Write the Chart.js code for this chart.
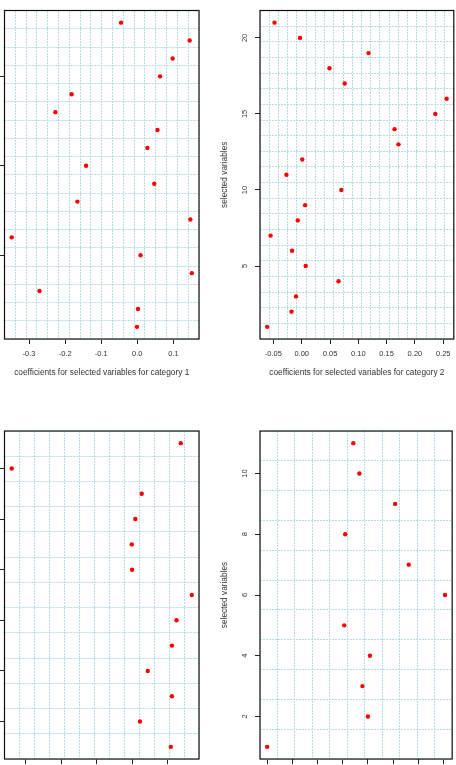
<!DOCTYPE html>
<html><head><meta charset="utf-8">
<script src="https://cdn.jsdelivr.net/npm/chart.js@4.4.1/dist/chart.umd.min.js"></script>
<style>
html,body{margin:0;padding:0;background:#fff;overflow:hidden;width:456px;height:765px;position:relative}
canvas{position:absolute}
</style></head><body>
<canvas id="c1" width="278" height="390" style="left:-50px;top:0px;width:278px;height:390px"></canvas>
<canvas id="c2" width="238" height="390" style="left:218px;top:0px;width:238px;height:390px"></canvas>
<canvas id="c3" width="278" height="420" style="left:-50px;top:390px;width:278px;height:420px"></canvas>
<canvas id="c4" width="238" height="420" style="left:218px;top:390px;width:238px;height:420px"></canvas>
<script>
// ---- data ----
const vars1 = [1,2,3,4,5,6,7,8,9,10,11,12,13,14,15,16,17,18];
const coef1 = [-0.001,0.002,-0.271,0.151,0.009,-0.348,0.147,-0.166,0.047,-0.142,0.028,0.056,-0.227,-0.182,0.063,0.098,0.145,-0.045];
const xTicks1 = [-0.3,-0.2,-0.1,0.0,0.1];
const yTicks1 = [5,10,15];

const vars2 = [1,2,3,4,5,6,7,8,9,10,11,12,13,14,15,16,17,18,19,20,21];
const coef2 = [-0.061,-0.018,-0.010,0.065,0.007,-0.017,-0.055,-0.007,0.006,0.070,-0.027,0.001,0.171,0.164,0.236,0.256,0.076,0.049,0.118,-0.003,-0.048];
const xTicks2 = [-0.05,0.00,0.05,0.10,0.15,0.20,0.25];
const yTicks2 = [5,10,15,20];

const vars3 = [1,2,3,4,5,6,7,8,9,10,11,12,13];
const coef3 = [0.109,0.022,0.112,0.044,0.112,0.125,0.168,0.000,-0.001,0.009,0.027,-0.339,0.137];
const xTicks3 = [-0.3,-0.2,-0.1,0.0,0.1];
const yTicks3 = [2,4,6,8,10,12];

const vars4 = [1,2,3,4,5,6,7,8,9,10,11];
const coef4 = [-0.150,0.050,0.039,0.054,0.003,0.203,0.131,0.005,0.104,0.033,0.021];
const xTicks4 = [-0.15,-0.10,-0.05,0.00,0.05,0.10,0.15,0.20];
const yTicks4 = [2,4,6,8,10];

const xTitles = ['coefficients for selected variables for category 1','coefficients for selected variables for category 2','coefficients for selected variables for category 3','coefficients for selected variables for category 4'];
const yTitle = 'selected variables';

// ---- drawing ----
const FONT = '"Liberation Sans", Arial, sans-serif';
const boxPlugin = {id:'box', afterDatasetsDraw(chart){
  const {ctx, chartArea:a} = chart;
  ctx.save(); ctx.strokeStyle='#111'; ctx.lineWidth=1.2;
  ctx.strokeRect(a.left, a.top, a.right-a.left, a.bottom-a.top);
  ctx.restore();
}};

function panel(id, xs, ys, xTicks, yTicks, xDec, xTitle, g){
  const n = ys.length;
  const lo = Math.min(...xs), hi = Math.max(...xs), r = hi-lo;
  const ylo = Math.min(...ys), yhi = Math.max(...ys), yr = yhi-ylo;
  const gridTicks = s => { s.ticks = []; for(let i=0;i<=n;i++) s.ticks.push({value:i}); };
  new Chart(document.getElementById(id), {
    type:'scatter',
    data:{datasets:[{data: xs.map((x,i)=>({x:x, y:ys[i]})), xAxisID:'x', yAxisID:'y',
      backgroundColor:'#ff0000', borderWidth:0, pointRadius:2.2, pointHoverRadius:2.2}]},
    options:{
      responsive:false, animation:false, devicePixelRatio:1, events:[],
      layout:{padding:{top:g.padTop, right:g.padRight, left:0, bottom:0}},
      plugins:{legend:{display:false}, tooltip:{enabled:false}},
      scales:{
        x:{type:'linear', position:'bottom', min:lo-0.04*r, max:hi+0.04*r,
           afterBuildTicks:s=>{ s.ticks = xTicks.map(v=>({value:v})); },
           afterFit:s=>{ s.height = g.xH; },
           ticks:{callback:v=>v.toFixed(xDec), font:{family:FONT,size:7.5}, color:'#333', padding:5, maxRotation:0, minRotation:0, autoSkip:false},
           grid:{drawOnChartArea:false, drawTicks:true, tickLength:5, tickColor:'#222', tickWidth:1},
           border:{display:false},
           title:{display:true, text:xTitle, font:{family:FONT,size:8.3}, color:'#333', padding:{top:0,bottom:12}}},
        y:{type:'linear', position:'left', min:ylo-0.04*yr, max:yhi+0.04*yr,
           afterBuildTicks:s=>{ s.ticks = yTicks.map(v=>({value:v})); },
           afterFit:s=>{ s.width = g.yW; },
           ticks:{callback:v=>String(v), font:{family:FONT,size:7.5}, color:'#333', padding:6, minRotation:90, maxRotation:90, crossAlign:'center', autoSkip:false},
           grid:{drawOnChartArea:false, drawTicks:true, tickLength:5, tickColor:'#222', tickWidth:1},
           border:{display:false},
           title:{display:true, text:yTitle, font:{family:FONT,size:8.3}, color:'#333', padding:{top:2,bottom:0}}},
        gx:{type:'linear', position:'top', min:0, max:n, afterBuildTicks:gridTicks,
            ticks:{display:false}, grid:{color:'#b4dde9', lineWidth:1, drawTicks:false},
            border:{display:false, dash:[2,1]}, afterFit:s=>{s.height=0;}},
        gy:{type:'linear', position:'right', min:0, max:n, afterBuildTicks:gridTicks,
            ticks:{display:false}, grid:{color:'#b4dde9', lineWidth:1, drawTicks:false},
            border:{display:false, dash:[2,1]}, afterFit:s=>{s.width=0;}}
      }
    },
    plugins:[boxPlugin]
  });
}

panel('c1', coef1, vars1, xTicks1, yTicks1, 1, xTitles[0], {yW:54.5, padTop:10, padRight:29, xH:51});
panel('c2', coef2, vars2, xTicks2, yTicks2, 2, xTitles[1], {yW:42, padTop:10, padRight:1.5, xH:51});
panel('c3', coef3, vars3, xTicks3, yTicks3, 1, xTitles[2], {yW:54.5, padTop:41, padRight:29, xH:51});
panel('c4', coef4, vars4, xTicks4, yTicks4, 2, xTitles[3], {yW:42, padTop:41, padRight:1.5, xH:51});
</script>
</body></html>
